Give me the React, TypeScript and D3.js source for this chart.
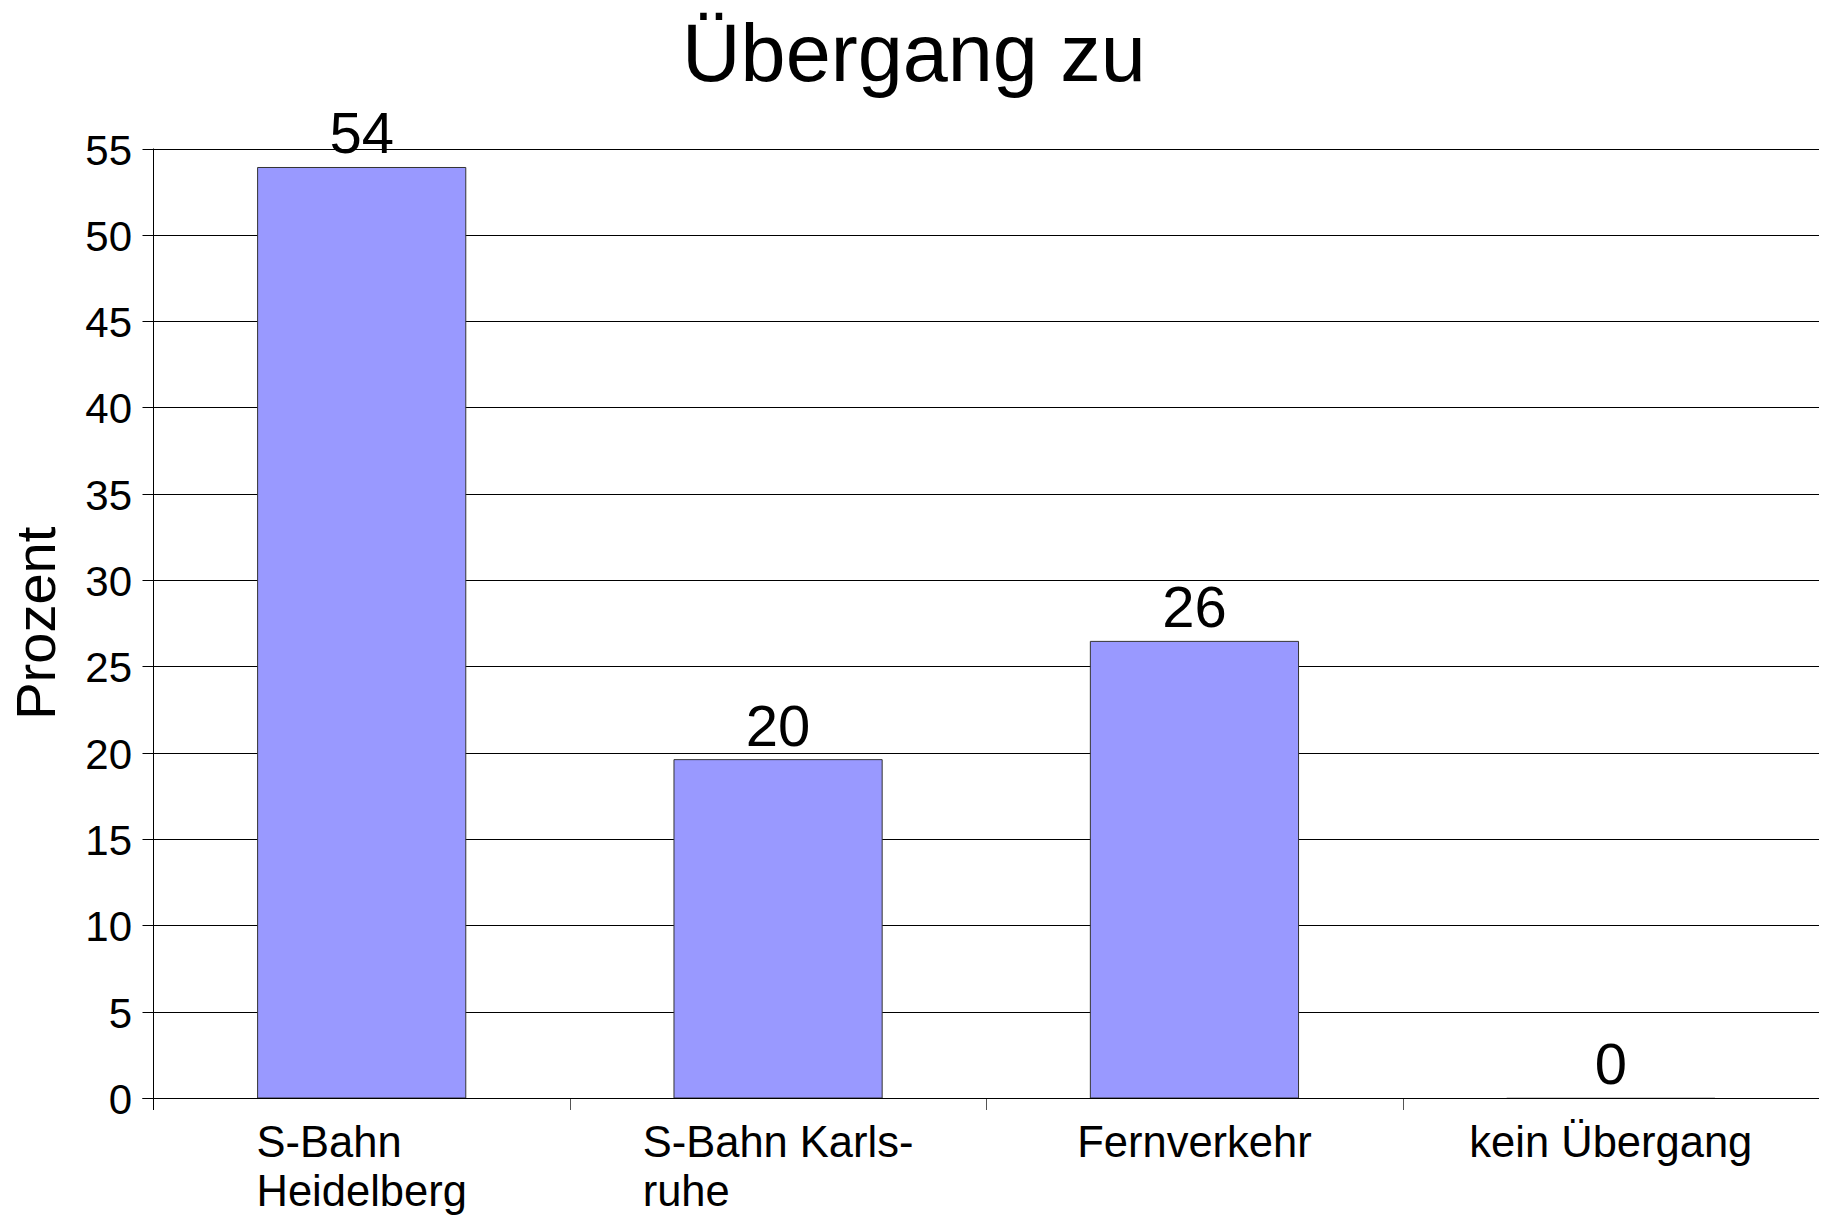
import React from "react";
import { scaleLinear, scaleBand, range } from "d3";

// chart data
const categories = ["S-Bahn\nHeidelberg", "S-Bahn Karls-\nruhe", "Fernverkehr", "kein Übergang"];
const percents = [53.9, 19.6, 26.45, 0];
const yTicks = range(0, 56, 5);

const W = 1828;
const H = 1215;
const margin = { top: 148.5, right: 9, bottom: 117, left: 153.5 };
const FONT = "'Liberation Sans', Arial, sans-serif";
const CAT_SIZE = 43.5;

let ctx: CanvasRenderingContext2D | null = null;
function textWidth(s: string, size: number) {
  if (!ctx) ctx = document.createElement("canvas").getContext("2d");
  if (!ctx) return s.length * size * 0.5;
  ctx.font = `${size}px 'Liberation Sans'`;
  return ctx.measureText(s).width;
}

function App() {
  const x0 = margin.left;
  const x1 = W - margin.right;
  const y0 = H - margin.bottom;
  const y1 = margin.top;

  const xScale = scaleBand<number>()
    .domain(range(categories.length))
    .range([x0, x1])
    .paddingInner(0)
    .paddingOuter(0);
  const yScale = scaleLinear().domain([0, 55]).range([y0, y1]);

  const bw = xScale.bandwidth();
  const barW = bw * 0.5;

  return (
    <svg
      width={W}
      height={H}
      style={{ position: "absolute", left: 0, top: 0, background: "#fff" }}
      fontFamily={FONT}
    >
      <rect width={W} height={H} fill="#fff" />
      {/* title */}
      <text x={W / 2} y={81} fontSize={81} textAnchor="middle" fill="#000">
        Übergang zu
      </text>

      {/* grid + y ticks */}
      {yTicks.map(t => {
        const y = Math.round(yScale(t)) + 0.5;
        return (
          <g key={t}>
            <line x1={x0 - 11} x2={x1} y1={y} y2={y} stroke="#000" strokeWidth={1} />
            <text x={132} y={y + 15} fontSize={42} textAnchor="end" fill="#000">
              {t}
            </text>
          </g>
        );
      })}

      {/* y axis */}
      <line x1={x0} x2={x0} y1={y1} y2={y0 + 12} stroke="#000" strokeWidth={1} />
      {range(1, categories.length).map(i => {
        const x = Math.round(xScale(i) as number) + 0.5;
        return <line key={i} x1={x} x2={x} y1={y0} y2={y0 + 12} stroke="#555" strokeWidth={1} />;
      })}

      {/* bars */}
      {percents.map((v, i) => {
        const bx = (xScale(i) as number) + (bw - barW) / 2;
        const top = yScale(v);
        return (
          <path
            key={i}
            d={`M${bx},${y0} V${top} H${bx + barW} V${y0} Z`}
            fill="#9999ff"
            stroke={v === 0 ? "#bbb" : "#333"}
            strokeWidth={1}
          />
        );
      })}

      {/* baseline on top of bars */}
      <line x1={x0 - 11} x2={x1} y1={Math.round(y0) + 0.5} y2={Math.round(y0) + 0.5} stroke="#000" />

      {/* value labels */}
      {percents.map((v, i) => (
        <text
          key={i}
          x={(xScale(i) as number) + bw / 2}
          y={yScale(v) - 14}
          fontSize={58}
          textAnchor="middle"
          fill="#000"
        >
          {Math.round(v)}
        </text>
      ))}

      {/* category labels */}
      {categories.map((c, i) => {
        const lines = c.split("\n");
        const blockW = Math.max(...lines.map(l => textWidth(l, CAT_SIZE)));
        const left = (xScale(i) as number) + bw / 2 - blockW / 2;
        return (
          <text key={i} fontSize={CAT_SIZE} fill="#000">
            {lines.map((l, j) => (
              <tspan key={j} x={lines.length > 1 ? left : (xScale(i) as number) + bw / 2}
                textAnchor={lines.length > 1 ? "start" : "middle"}
                y={1157 + j * 49.3}>
                {l}
              </tspan>
            ))}
          </text>
        );
      })}

      {/* y axis title */}
      <text
        transform={`translate(55, ${(y0 + y1) / 2}) rotate(-90)`}
        fontSize={56}
        textAnchor="middle"
        fill="#000"
      >
        Prozent
      </text>
    </svg>
  );
}

export default App;
